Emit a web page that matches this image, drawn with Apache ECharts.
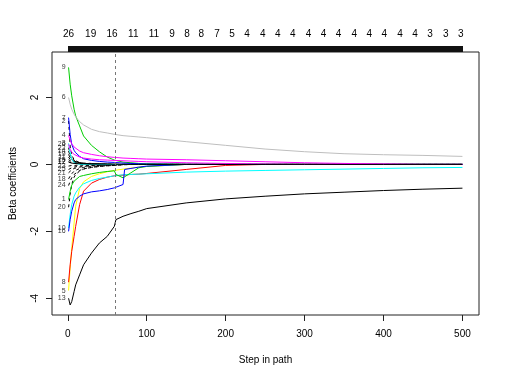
<!DOCTYPE html>
<html>
<head>
<meta charset="utf-8">
<script src="https://cdn.jsdelivr.net/npm/echarts@6/dist/echarts.min.js"></script>
<style>
  html, body { margin: 0; padding: 0; background: #fff; }
  #chart { width: 506px; height: 380px; }
</style>
</head>
<body>
<div id="chart"></div>
<script>
const steps = [1, 3, 5, 8, 10, 15, 20, 30, 40, 50, 59, 61, 70, 72, 80, 90, 100, 150, 200, 250, 300, 350, 400, 450, 500]

// top axis: number of nonzero coefficients
const topSteps = [1, 29, 56, 83, 109, 132, 151, 169, 189, 208, 227, 247, 266, 285, 305, 324, 343, 363, 382, 401, 421, 440, 459, 479, 498]
const topCounts = [26, 19, 16, 11, 11, 9, 8, 8, 7, 5, 4, 4, 4, 4, 4, 4, 4, 4, 4, 4, 4, 4, 3, 3, 3]

const xTicks = [0, 100, 200, 300, 400, 500]
const yTicks = [-4, -2, 0, 2]
const selectedStep = 60

// coefficient paths
const v9 = [2.9, 2.4, 2.05, 1.65, 1.45, 1.15, 0.85, 0.57, 0.38, 0.22, 0.13, 0.11, 0.07, 0.07, 0.05, 0.03, 0.02, 0, 0, 0, 0, 0, 0, 0, 0]
const v6 = [2.0, 1.8, 1.65, 1.5, 1.42, 1.28, 1.18, 1.05, 0.98, 0.94, 0.9, 0.88, 0.86, 0.86, 0.84, 0.82, 0.8, 0.68, 0.57, 0.46, 0.38, 0.32, 0.29, 0.27, 0.24]
const v7 = [1.4, 0.9, 0.6, 0.42, 0.35, 0.24, 0.17, 0.12, 0.09, 0.07, 0.06, 0.05, 0.04, 0.04, 0.03, 0.02, 0.01, 0, 0, 0, 0, 0, 0, 0, 0]
const v2 = [1.3, 0.55, 0.28, 0.14, 0.1, 0.05, 0.03, 0.01, 0, 0, 0, 0, 0, 0, 0, 0, 0, 0, 0, 0, 0, 0, 0, 0, 0]
const v4 = [0.87, 0.72, 0.62, 0.52, 0.47, 0.4, 0.35, 0.3, 0.26, 0.23, 0.21, 0.2, 0.19, 0.19, 0.18, 0.17, 0.16, 0.14, 0.11, 0.08, 0.05, 0.03, 0.015, 0, 0]
const v26 = [0.6, 0.45, 0.37, 0.3, 0.27, 0.22, 0.19, 0.16, 0.14, 0.13, 0.12, 0.12, 0.11, 0.11, 0.1, 0.09, 0.08, 0.05, 0.03, 0.01, 0, 0, 0, 0, 0]
const v3 = [0.63, 0.35, 0.15, 0.05, 0.02, 0, 0, 0, 0, 0, 0, 0, 0, 0, 0, 0, 0, 0, 0, 0, 0, 0, 0, 0, 0]
const v22 = [0.5, 0.3, 0.2, 0.12, 0.09, 0.05, 0.03, 0.01, 0, 0, 0, 0, 0, 0, 0, 0, 0, 0, 0, 0, 0, 0, 0, 0, 0]
const v14 = [0.4, 0.25, 0.16, 0.1, 0.08, 0.05, 0.03, 0.02, 0.01, 0.005, 0, 0, 0, 0, 0, 0, 0, 0, 0, 0, 0, 0, 0, 0, 0]
const v19 = [0.3, 0.2, 0.14, 0.09, 0.07, 0.05, 0.04, 0.03, 0.02, 0.01, 0.005, 0, 0, 0, 0, 0, 0, 0, 0, 0, 0, 0, 0, 0, 0]
const v11 = [0.22, 0.15, 0.11, 0.08, 0.06, 0.04, 0.03, 0.02, 0.015, 0.01, 0.005, 0, 0, 0, 0, 0, 0, 0, 0, 0, 0, 0, 0, 0, 0]
const v15 = [0.14, 0.1, 0.08, 0.06, 0.05, 0.04, 0.03, 0.02, 0.01, 0.005, 0, 0, 0, 0, 0, 0, 0, 0, 0, 0, 0, 0, 0, 0, 0]
const v12 = [0.07, 0.05, 0.04, 0.03, 0.03, 0.02, 0.02, 0.01, 0.01, 0, 0, 0, 0, 0, 0, 0, 0, 0, 0, 0, 0, 0, 0, 0, 0]
const v23 = [-0.05, -0.04, -0.03, -0.03, -0.02, -0.02, -0.01, -0.01, 0, 0, 0, 0, 0, 0, 0, 0, 0, 0, 0, 0, 0, 0, 0, 0, 0]
const v25 = [-0.15, -0.12, -0.1, -0.08, -0.07, -0.05, -0.04, -0.03, -0.02, -0.01, 0, 0, 0, 0, 0, 0, 0, 0, 0, 0, 0, 0, 0, 0, 0]
const v21 = [-0.25, -0.2, -0.16, -0.12, -0.1, -0.08, -0.06, -0.04, -0.03, -0.02, -0.01, 0, 0, 0, 0, 0, 0, 0, 0, 0, 0, 0, 0, 0, 0]
const v18 = [-0.43, -0.35, -0.28, -0.2, -0.17, -0.12, -0.09, -0.06, -0.04, -0.03, -0.02, -0.01, 0, 0, 0, 0, 0, 0, 0, 0, 0, 0, 0, 0, 0]
const v24 = [-0.63, -0.5, -0.4, -0.3, -0.25, -0.18, -0.13, -0.09, -0.06, -0.04, -0.03, -0.02, -0.01, 0, 0, 0, 0, 0, 0, 0, 0, 0, 0, 0, 0]
const v20 = [-1.28, -0.9, -0.6, -0.38, -0.3, -0.2, -0.14, -0.09, -0.06, -0.04, -0.03, -0.02, -0.01, 0, 0, 0, 0, 0, 0, 0, 0, 0, 0, 0, 0]
const v17 = [0.08, 0.05, 0.04, 0.03, 0.03, 0.02, 0.02, 0.01, 0.01, 0.01, 0.005, 0, 0, 0, 0, 0, 0, 0, 0, 0, 0, 0, 0, 0, 0]
const v1 = [-1.05, -0.8, -0.62, -0.5, -0.45, -0.36, -0.33, -0.28, -0.24, -0.21, -0.19, -0.3, -0.4, -0.4, -0.25, -0.1, -0.06, 0, 0, 0, 0, 0, 0, 0, 0]
const v16 = [-2.0, -1.65, -1.4, -1.15, -1.05, -0.95, -0.88, -0.82, -0.79, -0.75, -0.7, -0.66, -0.6, -0.15, -0.12, -0.08, -0.05, 0, 0, 0, 0, 0, 0, 0, 0]
const v10 = [-1.9, -1.5, -1.2, -0.95, -0.85, -0.68, -0.58, -0.48, -0.42, -0.38, -0.34, -0.33, -0.31, -0.31, -0.3, -0.29, -0.28, -0.23, -0.2, -0.18, -0.16, -0.14, -0.12, -0.1, -0.09]
const v5 = [-3.77, -3.1, -2.5, -1.75, -1.25, -0.72, -0.52, -0.36, -0.28, -0.22, -0.18, -0.17, -0.14, -0.13, -0.11, -0.08, -0.06, 0, 0, 0, 0, 0, 0, 0, 0]
const v8 = [-3.52, -3.0, -2.6, -2.15, -1.85, -1.2, -0.8, -0.56, -0.45, -0.38, -0.34, -0.33, -0.32, -0.31, -0.3, -0.29, -0.27, -0.15, -0.03, 0, 0, 0, 0, 0, 0]
const v13 = [-4.0, -4.2, -4.1, -3.8, -3.6, -3.3, -3.0, -2.65, -2.35, -2.15, -1.85, -1.65, -1.55, -1.53, -1.47, -1.4, -1.32, -1.15, -1.03, -0.95, -0.88, -0.83, -0.78, -0.74, -0.71]

// drawing order: later ones end up on top
const paths = [
  { name: '22', data: v22, color: '#000', dashed: true },
  { name: '14', data: v14, color: '#000', dashed: true },
  { name: '19', data: v19, color: '#000', dashed: true },
  { name: '11', data: v11, color: '#000', dashed: true },
  { name: '15', data: v15, color: '#000', dashed: true },
  { name: '12', data: v12, color: '#000', dashed: true },
  { name: '23', data: v23, color: '#000', dashed: true },
  { name: '25', data: v25, color: '#000', dashed: true },
  { name: '21', data: v21, color: '#000', dashed: true },
  { name: '18', data: v18, color: '#000', dashed: true },
  { name: '24', data: v24, color: '#000', dashed: true },
  { name: '20', data: v20, color: '#000', dashed: true },
  { name: '2', data: v2, color: '#000', dashed: true },
  { name: '5', data: v5, color: '#FFFF00' },
  { name: '8', data: v8, color: '#FF0000' },
  { name: '10', data: v10, color: '#00FFFF' },
  { name: '3', data: v3, color: '#00FFFF' },
  { name: '1', data: v1, color: '#00CD00' },
  { name: '9', data: v9, color: '#00CD00' },
  { name: '16', data: v16, color: '#0000FF' },
  { name: '7', data: v7, color: '#0000FF' },
  { name: '26', data: v26, color: '#FF00FF' },
  { name: '4', data: v4, color: '#FF00FF' },
  { name: '6', data: v6, color: '#BEBEBE' },
  { name: '17', data: v17, color: '#000' },
  { name: '13', data: v13, color: '#000' },
]

const font = 'Liberation Sans'
const chart = echarts.init(document.getElementById('chart'))

const lineSeries = paths.map((p) => ({
  type: 'line',
  name: p.name,
  data: steps.map((s, i) => [s, p.data[i]]),
  showSymbol: false,
  symbol: 'none',
  silent: true,
  lineStyle: { width: 1, color: p.color, type: p.dashed ? [3, 3] : 'solid' },
}))

const labelSeries = {
  type: 'scatter',
  symbolSize: 0,
  silent: true,
  data: paths.map((p) => ({ value: [steps[0], p.data[0]], name: p.name })),
  label: {
    show: true,
    position: 'left',
    distance: 3,
    formatter: (d) => d.name,
    fontSize: 7,
    color: '#000',
    fontFamily: font,
  },
  markLine: {
    silent: true,
    symbol: ['none', 'none'],
    label: { show: false },
    lineStyle: { type: [3, 3], color: '#777', width: 1 },
    data: [{ xAxis: selectedStep }],
  },
}

const allSteps = []
for (let s = 1; s <= 500; s++) allSteps.push(s)

chart.setOption({
  animation: false,
  textStyle: { fontFamily: font },
  grid: { left: 51, right: 27, top: 52, bottom: 65, show: true, borderColor: '#222', borderWidth: 1 },
  xAxis: [
    {
      type: 'value',
      min: -20,
      max: 521,
      position: 'bottom',
      axisLine: { show: false, onZero: false },
      splitLine: { show: false },
      axisTick: { show: true, length: 6, customValues: xTicks, lineStyle: { color: '#222' } },
      axisLabel: { customValues: xTicks, margin: 14, fontSize: 10, color: '#000' },
      name: 'Step in path',
      nameLocation: 'middle',
      nameGap: 40,
      nameTextStyle: { fontSize: 10, color: '#000' },
    },
    {
      type: 'value',
      min: -20,
      max: 521,
      position: 'top',
      axisLine: { show: false, onZero: false },
      splitLine: { show: false },
      axisTick: { show: true, length: 6, customValues: allSteps, lineStyle: { color: '#111', width: 1 } },
      axisLabel: {
        customValues: topSteps,
        margin: 13,
        fontSize: 10,
        color: '#000',
        formatter: (v) => String(topCounts[topSteps.indexOf(v)]),
      },
    },
  ],
  yAxis: {
    type: 'value',
    min: -4.5,
    max: 3.36,
    axisLine: { show: false, onZero: false },
    splitLine: { show: false },
    axisTick: { show: true, length: 6, customValues: yTicks, lineStyle: { color: '#222' } },
    axisLabel: { customValues: yTicks, rotate: 90, margin: 12, fontSize: 10, color: '#000' },
    name: 'Beta coefficients',
    nameLocation: 'middle',
    nameGap: 34,
    nameTextStyle: { fontSize: 10, color: '#000' },
  },
  series: [...lineSeries, labelSeries],
})
</script>
</body>
</html>
